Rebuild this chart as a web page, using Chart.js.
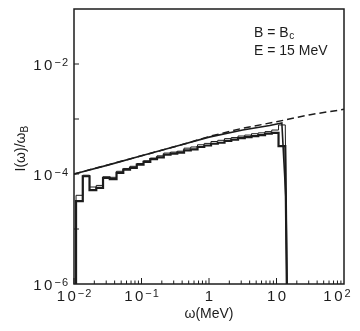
<!DOCTYPE html>
<html>
<head>
<meta charset="utf-8">
<script src="https://cdn.jsdelivr.net/npm/chart.js@4/dist/chart.umd.min.js"></script>
<style>
  html, body { margin: 0; padding: 0; background: #fff; }
  canvas { display: block; }
</style>
</head>
<body>
<canvas id="myChart" width="360" height="331"></canvas>
<script>
// quantum spectrum (solid), MeV vs I/wB
var solidW = [0.01, 0.0316, 0.1, 0.316, 1, 3.16, 7.94, 12.0, 12.9, 13.8, 14.3];
var solidI = [1.0e-4, 1.45e-4, 2.14e-4, 3.16e-4, 4.68e-4, 6.3e-4, 7.6e-4, 8.5e-4, 1.6e-4, 3.5e-5, 1e-6];

// classical spectrum (dashed)
var dashW = [0.01, 0.1, 0.5, 1, 3.16, 10, 31.6, 100];
var dashI = [1.0e-4, 2.14e-4, 3.7e-4, 4.8e-4, 6.8e-4, 8.9e-4, 1.2e-3, 1.5e-3];

// histogram bins (simulation)
var binEdges = [0.01072, 0.01349, 0.01698, 0.02138, 0.02692, 0.03388, 0.04266, 0.0537, 0.06761, 0.08511,
  0.1072, 0.1349, 0.1698, 0.2138, 0.2692, 0.3388, 0.4266, 0.537, 0.6761, 0.8511,
  1.072, 1.349, 1.698, 2.138, 2.692, 3.388, 4.266, 5.37, 6.761, 8.511, 10.72, 13.49];
var histThin = [4.1e-5, 9.5e-5, 5.8e-5, 6.2e-5, 8.9e-5, 8.7e-5, 1.12e-4, 1.26e-4, 1.38e-4, 1.55e-4,
  1.74e-4, 1.95e-4, 2.14e-4, 2.4e-4, 2.5e-4, 2.6e-4, 2.95e-4, 3.1e-4, 3.4e-4, 3.6e-4,
  3.9e-4, 4.1e-4, 4.4e-4, 4.6e-4, 4.9e-4, 5.1e-4, 5.4e-4, 5.6e-4, 5.9e-4, 6.3e-4, 7.8e-4];
var histThick = [3.2e-5, 9.1e-5, 5.1e-5, 5.6e-5, 8.5e-5, 8.1e-5, 1.05e-4, 1.2e-4, 1.29e-4, 1.48e-4,
  1.66e-4, 1.86e-4, 2.0e-4, 2.24e-4, 2.34e-4, 2.45e-4, 2.7e-4, 2.8e-4, 3.1e-4, 3.3e-4,
  3.55e-4, 3.7e-4, 4.0e-4, 4.2e-4, 4.5e-4, 4.7e-4, 4.9e-4, 5.1e-4, 5.4e-4, 5.6e-4, 3.2e-4];
var histEnd = 14.2;

var xTickVals = [0.01, 0.1, 1, 10, 100];
var xTickLabels = [["10", "\u22122"], ["10", "\u22121"], ["1", ""], ["10", ""], ["10", "2"]];
var yTickVals = [1e-2, 1e-4, 1e-6];
var yTickLabels = [["10", "\u22122"], ["10", "\u22124"], ["10", "\u22126"]];

var ink = "#1c1c1c";
var font = "'Liberation Sans', Arial, sans-serif";
var yMin = 1e-6;

function pairs(xs, ys) {
  var out = [];
  xs.forEach(function (x, i) { out.push({ x: x, y: ys[i] }); });
  return out;
}

function steps(edges, vals, end) {
  var out = [{ x: edges[0], y: yMin }];
  vals.forEach(function (v, i) {
    out.push({ x: edges[i], y: v });
    out.push({ x: edges[i + 1], y: v });
  });
  out.push({ x: end, y: yMin });
  return out;
}

// digits in the original are set wide apart
function spacedWidth(ctx, s, gap) {
  var w = 0;
  for (var i = 0; i < s.length; i++) w += ctx.measureText(s[i]).width;
  return w + gap * (s.length - 1);
}
function spacedText(ctx, s, x, y, gap) {
  for (var i = 0; i < s.length; i++) {
    ctx.fillText(s[i], x, y);
    x += ctx.measureText(s[i]).width + gap;
  }
}

function powText(ctx, base, exp, x, y, align) {
  ctx.font = "15px " + font;
  var wb = spacedWidth(ctx, base, 2.5);
  ctx.font = "11px " + font;
  var we = exp ? spacedWidth(ctx, exp, 1) + 2 : 0;
  var w = wb + we;
  var left = align == "right" ? x - w : x - w / 2;
  ctx.textAlign = "left";
  ctx.textBaseline = "alphabetic";
  ctx.font = "15px " + font;
  spacedText(ctx, base, left, y + 5.5, 2.5);
  if (exp) {
    ctx.font = "11px " + font;
    spacedText(ctx, exp, left + wb + 2, y + 2, 1);
  }
}

var frame = {
  id: "frame",
  afterDraw: function (chart) {
    var ctx = chart.ctx, a = chart.chartArea;
    var xs = chart.scales.x, ys = chart.scales.y;
    ctx.save();
    ctx.strokeStyle = ink;
    ctx.fillStyle = ink;
    ctx.lineWidth = 1.5;
    ctx.strokeRect(a.left, a.top, a.right - a.left, a.bottom - a.top);

    ctx.lineWidth = 1;
    ctx.beginPath();
    for (var d = -2; d < 2; d++) {
      for (var m = 1; m < 10; m++) {
        var px = xs.getPixelForValue(m * Math.pow(10, d));
        var len = m == 1 ? 6 : 3.5;
        ctx.moveTo(px, a.bottom);
        ctx.lineTo(px, a.bottom - len);
      }
    }
    for (var e = -5; e <= -2; e++) {
      var py = ys.getPixelForValue(Math.pow(10, e));
      ctx.moveTo(a.left, py);
      ctx.lineTo(a.left + 5, py);
    }
    ctx.stroke();

    xTickVals.forEach(function (v, i) {
      var px = xs.getPixelForValue(v);
      if (i == xTickVals.length - 1) px -= 7;
      powText(ctx, xTickLabels[i][0], xTickLabels[i][1], px, a.bottom + 11, "center");
    });
    yTickVals.forEach(function (v, i) {
      var py = ys.getPixelForValue(v);
      powText(ctx, yTickLabels[i][0], yTickLabels[i][1], a.left - 6, py, "right");
    });

    // axis titles
    ctx.font = "14px " + font;
    ctx.textAlign = "center";
    ctx.fillText("\u03c9(MeV)", (xs.getPixelForValue(1)), 318);

    ctx.save();
    ctx.translate(25, 149);
    ctx.rotate(-Math.PI / 2);
    ctx.textAlign = "left";
    var t = "I(\u03c9)/\u03c9";
    var wt = ctx.measureText(t).width;
    ctx.fillText(t, -wt / 2 - 3, 0);
    ctx.font = "10px " + font;
    ctx.fillText("B", wt / 2 - 3, 3);
    ctx.restore();

    // annotation
    ctx.textAlign = "left";
    ctx.font = "14px " + font;
    ctx.fillText("B = B", 254, 37);
    var wb = ctx.measureText("B = B").width;
    ctx.font = "10px " + font;
    ctx.fillText("c", 254 + wb + 0.5, 39);
    ctx.font = "14px " + font;
    ctx.fillText("E = 15 MeV", 254, 55);
    ctx.restore();
  }
};

function fixWidth(w) { return function (s) { s.width = w; }; }
function fixHeight(h) { return function (s) { s.height = h; }; }

var ctx = document.getElementById("myChart").getContext("2d");
var myChart = new Chart(ctx, {
  type: "scatter",
  data: {
    datasets: [
      { data: pairs(solidW, solidI), borderColor: ink, borderWidth: 1.6 },
      { data: steps(binEdges, histThick, histEnd), borderColor: ink, borderWidth: 2.2 },
      { data: steps(binEdges, histThin, histEnd), borderColor: ink, borderWidth: 1 },
      { data: pairs(dashW, dashI), borderColor: ink, borderWidth: 1.5, borderDash: [7, 4] }
    ]
  },
  options: {
    responsive: false,
    animation: false,
    devicePixelRatio: 1,
    showLine: true,
    elements: { point: { radius: 0 }, line: { tension: 0, fill: false } },
    layout: { padding: { left: 0, right: 16, top: 9, bottom: 0 } },
    plugins: { legend: { display: false }, tooltip: { enabled: false } },
    scales: {
      x: {
        type: "logarithmic", min: 0.01, max: 100,
        grid: { display: false }, border: { display: false },
        ticks: { display: false },
        afterFit: fixHeight(47)
      },
      y: {
        type: "logarithmic", min: 1e-6, max: 1e-1,
        grid: { display: false }, border: { display: false },
        ticks: { display: false },
        afterFit: fixWidth(74)
      }
    }
  },
  plugins: [frame]
});
</script>
</body>
</html>
